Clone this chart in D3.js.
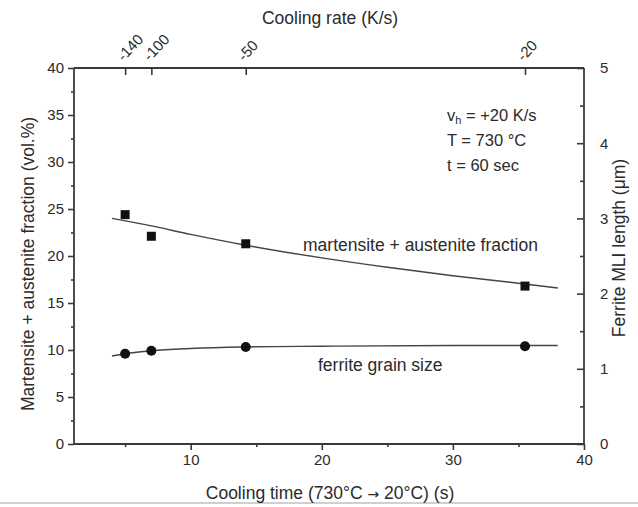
<!DOCTYPE html>
<html>
<head>
<meta charset="utf-8">
<script src="https://cdn.jsdelivr.net/npm/d3@7"></script>
<style>
  body { margin: 0; background: #fff; }
  svg { display: block; }
  text { font-family: "Liberation Sans", Arial, Helvetica, sans-serif; fill: #2b2b2b; }
</style>
</head>
<body>
<svg id="chart" width="638" height="507"></svg>
<script>
// ---- Data ----
const coolingTime = [5.0, 7.0, 14.2, 35.5];                 // s
const martensiteFraction = [24.4, 22.1, 21.3, 16.8];        // vol.%
const ferriteMLI = [1.20, 1.24, 1.29, 1.30];                // µm

// fitted curves as drawn in the figure
const fitMartX = [4.0, 7.0, 10.0, 14.0, 20.0, 25.0, 30.0, 35.0, 38.0];
const fitMartY = [24.0, 23.2, 22.3, 21.2, 19.8, 18.8, 17.9, 17.1, 16.6];
const fitFerrX = [4.0, 5.0, 7.0, 10.0, 14.0, 20.0, 30.0, 38.0];
const fitFerrY = [1.17, 1.20, 1.24, 1.27, 1.29, 1.30, 1.31, 1.31];

// top axis: cooling rate labels at their cooling-time positions
const rateLabels = ["-140", "-100", "-50", "-20"];
const ratePositions = [5.0, 7.0, 14.2, 35.5];

const bottomTicks = [10, 20, 30, 40];
const bottomMinor = [5, 15, 25, 35];
const leftTicks = [0, 5, 10, 15, 20, 25, 30, 35, 40];
const leftMinor = [2.5, 7.5, 12.5, 17.5, 22.5, 27.5, 32.5, 37.5];
const rightTicks = [0, 1, 2, 3, 4, 5];
const rightMinor = [0.5, 1.5, 2.5, 3.5, 4.5];

const annotations = ["= +20 K/s", "T = 730 °C", "t = 60 sec"];

// ---- Layout ----
const svg = d3.select("#chart");
const L = 74, R = 584, T = 68, B = 444;
const axisColor = "#3a3a3a";

const x = d3.scaleLinear().domain([1.1, 40]).range([L, R]);
const yL = d3.scaleLinear().domain([0, 40]).range([B, T]);
const yR = d3.scaleLinear().domain([0, 5]).range([B, T]);

// bottom separator line of the figure
svg.append("line").attr("x1", 0).attr("x2", 638).attr("y1", 503).attr("y2", 503)
  .attr("stroke", "#d0d0d0").attr("stroke-width", 2);

function styleAxis(g) {
  g.select(".domain").remove();
  g.selectAll("line").attr("stroke", axisColor).attr("stroke-width", 1.6);
  g.selectAll("text").attr("fill", "#2b2b2b");
}

// bottom axis
const gB = svg.append("g").attr("transform", `translate(0,${B})`);
gB.call(d3.axisBottom(x).tickValues(bottomTicks).tickSize(6).tickPadding(4).tickFormat(d3.format("d")))
  .call(styleAxis);
gB.selectAll("text").style("font-size", "15px").attr("font-family", "Liberation Sans, Arial, sans-serif");
svg.append("g").attr("transform", `translate(0,${B})`)
  .call(d3.axisBottom(x).tickValues(bottomMinor).tickSize(3).tickFormat(""))
  .call(styleAxis);

// left axis
const gL = svg.append("g").attr("transform", `translate(${L},0)`);
gL.call(d3.axisLeft(yL).tickValues(leftTicks).tickSize(6).tickPadding(4).tickFormat(d3.format("d")))
  .call(styleAxis);
gL.selectAll("text").style("font-size", "15px").attr("font-family", "Liberation Sans, Arial, sans-serif");
svg.append("g").attr("transform", `translate(${L},0)`)
  .call(d3.axisLeft(yL).tickValues(leftMinor).tickSize(3).tickFormat(""))
  .call(styleAxis);

// right axis (ticks inward, labels outside)
const gR = svg.append("g").attr("transform", `translate(${R},0)`);
gR.call(d3.axisRight(yR).tickValues(rightTicks).tickSize(-7).tickPadding(16).tickFormat(d3.format("d")))
  .call(styleAxis);
gR.selectAll("text").style("font-size", "15px").attr("font-family", "Liberation Sans, Arial, sans-serif");
svg.append("g").attr("transform", `translate(${R},0)`)
  .call(d3.axisRight(yR).tickValues(rightMinor).tickSize(-4).tickFormat(""))
  .call(styleAxis);

// top axis (ticks inward, rotated labels)
const gT = svg.append("g").attr("transform", `translate(0,${T})`);
gT.call(d3.axisTop(x).tickValues(ratePositions).tickSize(-7).tickFormat((d, i) => rateLabels[i]))
  .call(styleAxis);
gT.selectAll("text")
  .style("font-size", "15px")
  .attr("font-family", "Liberation Sans, Arial, sans-serif")
  .attr("text-anchor", "start")
  .attr("dy", null)
  .attr("y", 0)
  .attr("transform", "translate(-2,-6) rotate(-47)");

// frame lines
svg.append("g").attr("stroke", axisColor).attr("stroke-width", 1.8)
  .selectAll("line")
  .data([[L, T, R, T], [L, B, R, B], [L, T, L, B], [R, T, R, B]])
  .join("line")
  .attr("x1", d => d[0]).attr("y1", d => d[1]).attr("x2", d => d[2]).attr("y2", d => d[3]);

// fitted curves
const lineM = d3.line().x(d => x(d[0])).y(d => yL(d[1])).curve(d3.curveMonotoneX);
const lineF = d3.line().x(d => x(d[0])).y(d => yR(d[1])).curve(d3.curveMonotoneX);
svg.append("path").datum(d3.zip(fitMartX, fitMartY)).attr("d", lineM)
  .attr("fill", "none").attr("stroke", "#444").attr("stroke-width", 1.4);
svg.append("path").datum(d3.zip(fitFerrX, fitFerrY)).attr("d", lineF)
  .attr("fill", "none").attr("stroke", "#444").attr("stroke-width", 1.4);

// markers
const sq = 9;
svg.append("g").selectAll("rect").data(d3.zip(coolingTime, martensiteFraction)).join("rect")
  .attr("x", d => x(d[0]) - sq / 2).attr("y", d => yL(d[1]) - sq / 2)
  .attr("width", sq).attr("height", sq).attr("fill", "#111");
svg.append("g").selectAll("circle").data(d3.zip(coolingTime, ferriteMLI)).join("circle")
  .attr("cx", d => x(d[0])).attr("cy", d => yR(d[1])).attr("r", 5).attr("fill", "#111");

// series labels
svg.append("text").attr("x", 303).attr("y", 251).style("font-size", "17.5px")
  .text("martensite + austenite fraction");
svg.append("text").attr("x", 318).attr("y", 371).style("font-size", "17.5px")
  .text("ferrite grain size");

// annotations
const ann = svg.append("g").style("font-size", "16.5px");
const a0 = ann.append("text").attr("x", 447).attr("y", 121).attr("fill", "#2b2b2b");
a0.append("tspan").attr("fill", "#2b2b2b").text("v");
a0.append("tspan").attr("dy", 3).attr("fill", "#2b2b2b").style("font-size", "11px").text("h");
a0.append("tspan").attr("dy", -3).attr("fill", "#2b2b2b").text(" " + annotations[0]);
ann.append("text").attr("x", 447).attr("y", 146).text(annotations[1]);
ann.append("text").attr("x", 447).attr("y", 171).text(annotations[2]);

// axis titles
svg.append("text").attr("x", 330).attr("y", 24).attr("text-anchor", "middle")
  .style("font-size", "17.5px").text("Cooling rate (K/s)");
const bt = svg.append("text").attr("x", 330).attr("y", 499).attr("text-anchor", "middle")
  .style("font-size", "17.5px");
bt.append("tspan").text("Cooling time (730°C ");
bt.append("tspan").style("font-family", "DejaVu Sans, sans-serif").style("font-size", "14px").text("\u2192");
bt.append("tspan").text(" 20°C) (s)");
svg.append("text").attr("transform", "translate(34,264) rotate(-90)").attr("text-anchor", "middle")
  .style("font-size", "17.5px").text("Martensite + austenite fraction (vol.%)");
svg.append("text").attr("transform", "translate(625,248) rotate(-90)").attr("text-anchor", "middle")
  .style("font-size", "17.5px").text("Ferrite MLI length (\u03bcm)");
</script>
</body>
</html>
